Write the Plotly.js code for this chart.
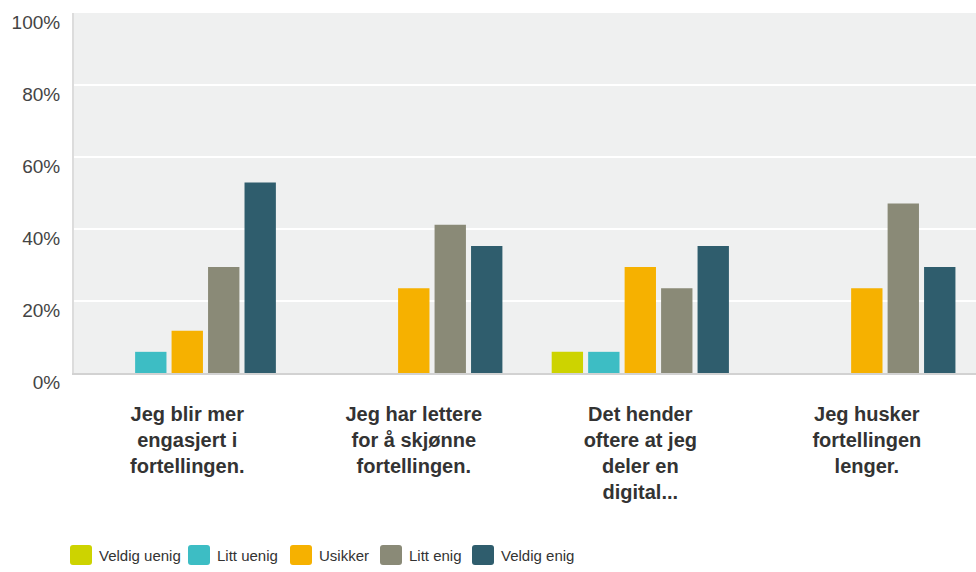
<!DOCTYPE html>
<html>
<head>
<meta charset="utf-8">
<script src="https://cdn.plot.ly/plotly-3.0.1.min.js"></script>
<style>
  html, body { margin: 0; padding: 0; background: #ffffff; }
  #chart { width: 976px; height: 572px; }
</style>
</head>
<body>
<div id="chart"></div>
<script>
// Survey statements (x categories)
const categories = [
  "Jeg blir mer<br>engasjert i<br>fortellingen.",
  "Jeg har lettere<br>for å skjønne<br>fortellingen.",
  "Det hender<br>oftere at jeg<br>deler en<br>digital...",
  "Jeg husker<br>fortellingen<br>lenger."
];

// Answer options (legend order)
const seriesNames = ["Veldig uenig", "Litt uenig", "Usikker", "Litt enig", "Veldig enig"];
const seriesColors = ["#cdd300", "#3dbdc4", "#f6b100", "#8a8a77", "#2f5d6d"];

// Share of respondents per answer, in percent
const veldigUenig = [0, 0, 5.88, 0];
const littUenig   = [5.88, 0, 5.88, 0];
const usikker     = [11.76, 23.53, 29.41, 23.53];
const littEnig    = [29.41, 41.18, 23.53, 47.06];
const veldigEnig  = [52.94, 35.29, 35.29, 29.41];

const seriesValues = [veldigUenig, littUenig, usikker, littEnig, veldigEnig];

const yTickVals = [0, 20, 40, 60, 80, 100];
const yTickText = ["0%", "20%", "40%", "60%", "80%", "100%"];

const traces = seriesNames.map((name, i) => ({
  type: "bar",
  name: name,
  x: [0, 1, 2, 3],
  y: seriesValues[i],
  marker: { color: seriesColors[i], line: { width: 0 } },
  hoverinfo: "skip"
}));

// Plot area geometry in pixels (for placing the custom legend)
const W = 976, H = 572;
const mL = 74, mR = 0, mT = 13, mB = 199;
const plotW = W - mL - mR, plotH = H - mT - mB;
const toPaperX = px => (px - mL) / plotW;
const toPaperY = py => (H - mB - py) / plotH;

// Custom legend: rounded swatches with labels underneath the chart
const legendSwatchX = [70, 188, 290, 380, 472];
const legendY = 555;
const shapes = [];
const annotations = [];
const r = 3, hw = 11, hh = 10;
const roundRect =
  `M ${-hw + r} ${-hh} L ${hw - r} ${-hh} Q ${hw} ${-hh} ${hw} ${-hh + r} ` +
  `L ${hw} ${hh - r} Q ${hw} ${hh} ${hw - r} ${hh} L ${-hw + r} ${hh} ` +
  `Q ${-hw} ${hh} ${-hw} ${hh - r} L ${-hw} ${-hh + r} Q ${-hw} ${-hh} ${-hw + r} ${-hh} Z`;

seriesNames.forEach((name, i) => {
  shapes.push({
    type: "path",
    xref: "paper", yref: "paper",
    xsizemode: "pixel", ysizemode: "pixel",
    xanchor: toPaperX(legendSwatchX[i] + hw),
    yanchor: toPaperY(legendY),
    path: roundRect,
    fillcolor: seriesColors[i],
    line: { width: 0 }
  });
  annotations.push({
    xref: "paper", yref: "paper",
    x: toPaperX(legendSwatchX[i] + 27),
    y: toPaperY(legendY),
    xanchor: "left", yanchor: "middle",
    showarrow: false,
    text: name,
    font: { family: "Liberation Sans, Arial, sans-serif", size: 15, color: "#333333" }
  });
});

const layout = {
  width: W, height: H,
  margin: { l: mL, r: mR, t: mT, b: mB, pad: 0 },
  paper_bgcolor: "#ffffff",
  plot_bgcolor: "#eff0f0",
  barmode: "group",
  bargap: 0.195,
  bargroupgap: 0.14,
  showlegend: false,
  xaxis: {
    tickmode: "array",
    tickvals: [0, 1, 2, 3],
    ticktext: categories,
    range: [-0.5, 3.482],
    showgrid: false,
    zeroline: false,
    showline: true,
    linecolor: "#d2d2d2",
    linewidth: 2,
    ticks: "outside",
    ticklen: 22,
    tickcolor: "rgba(0,0,0,0)",
    tickfont: { family: "Liberation Sans, Arial, sans-serif", size: 20, color: "#333333", weight: "bold" },
    fixedrange: true
  },
  yaxis: {
    range: [0, 100],
    tickmode: "array",
    tickvals: yTickVals,
    ticktext: yTickText,
    showgrid: true,
    gridcolor: "#ffffff",
    gridwidth: 2,
    zeroline: false,
    showline: true,
    linecolor: "#dcdcdc",
    linewidth: 2,
    ticks: "outside",
    ticklen: 8,
    tickcolor: "rgba(0,0,0,0)",
    ticklabelshift: 9,
    tickfont: { family: "Liberation Sans, Arial, sans-serif", size: 19, color: "#444444" },
    fixedrange: true
  },
  shapes: shapes,
  annotations: annotations
};

Plotly.newPlot("chart", traces, layout, { displayModeBar: false, staticPlot: true });
</script>
</body>
</html>
